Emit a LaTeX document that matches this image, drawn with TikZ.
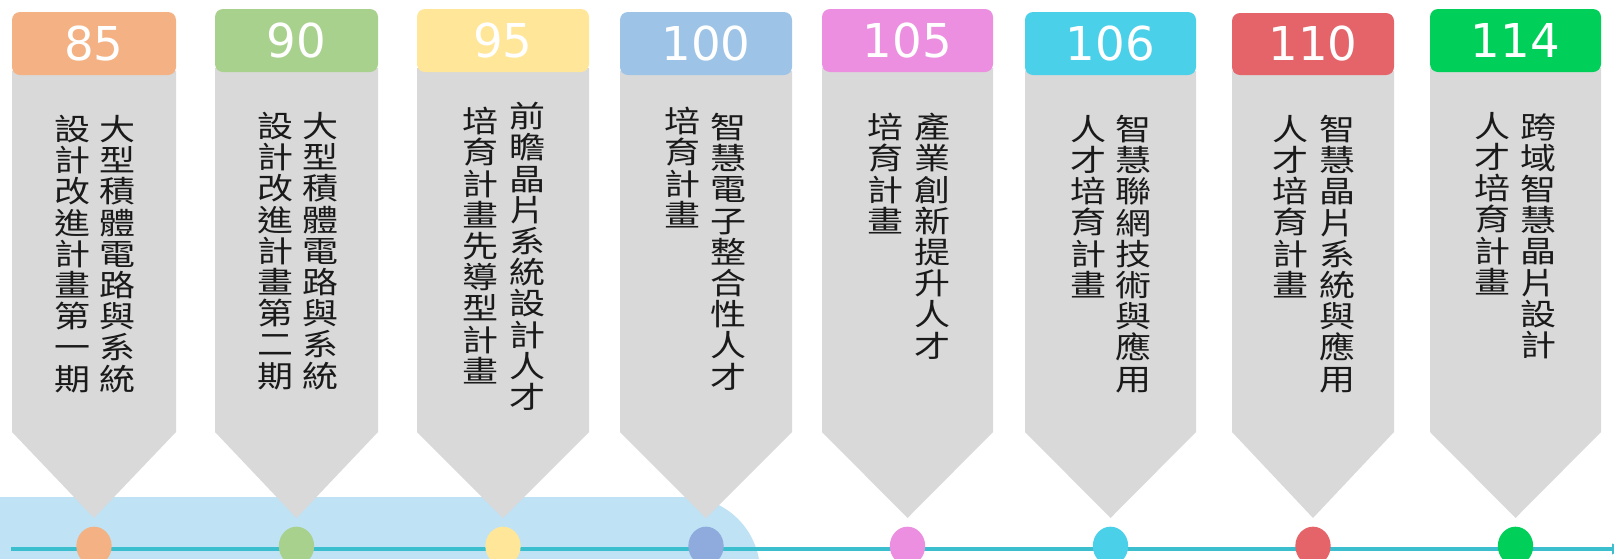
\documentclass[tikz,border=0pt]{standalone}
\usepackage{fontspec}
\newfontfamily\cjk[FakeStretch=1.2]{Noto Sans CJK TC}
\newfontfamily\numfont{DejaVu Sans}
\usetikzlibrary{shapes.geometric,arrows.meta}
\definecolor{cA}{HTML}{F4B183}
\definecolor{cB}{HTML}{A9D18E}
\definecolor{cC}{HTML}{FFE699}
\definecolor{cD}{HTML}{9DC3E6}
\definecolor{cDd}{HTML}{8FAADC}
\definecolor{cE}{HTML}{EC8FE0}
\definecolor{cF}{HTML}{4BD0EA}
\definecolor{cG}{HTML}{E46469}
\definecolor{cH}{HTML}{00D05A}
\definecolor{bodygray}{HTML}{D9D9D9}
\definecolor{bandblue}{HTML}{BFE2F4}
\definecolor{tlcolor}{HTML}{3BBFCF}
\definecolor{txt}{HTML}{1A1A1A}
\newcommand\tlcol[8]{%
  \pgfmathsetmacro\cx{(#1+#2)/2}
  \fill[bodygray] (#1,{#4-4}) -- (#2,{#4-4}) -- (#2,432) -- (\cx,518) -- (#1,432) -- cycle;
  \node[hdr, fill=#5, minimum width={(#2-#1)*0.75pt}, minimum height={(#4-#3)*0.75pt}] (h#8) at (\cx,{(#3+#4)/2}) {#7};
  \node[dot, fill=#6] (d#8) at (\cx,546) {};
}
\begin{document}
\begin{tikzpicture}[x=0.75pt,y=-0.75pt,
  hdr/.style={rounded corners=6pt, inner sep=0pt, text=white, font=\numfont\fontsize{35}{35}\selectfont},
  vtext/.style={anchor=north, inner sep=0pt, align=center, text=txt, font=\cjk\fontsize{22.5}{23.4}\selectfont},
  dot/.style={ellipse, minimum width=26.5pt, minimum height=29pt, inner sep=0pt},
  tline/.style={draw=tlcolor, line width=3pt, -{Latex[length=9pt,width=9pt]}}]
\useasboundingbox (0,0) rectangle (1614,558);
\fill[bandblue] (0,497) -- (685,497) arc[start angle=-90,end angle=0,radius=75] -- (760,565) -- (0,565) -- cycle;
\coordinate (tlS) at (11,549);
\coordinate (tlE) at (1624,549);
\draw[tline] (tlS) -- (tlE);
\tlcol{12}{176}{12}{75}{cA}{cA}{85}{1}
\tlcol{215}{378}{9}{72}{cB}{cB}{90}{2}
\tlcol{417}{589}{9}{72}{cC}{cC}{95}{3}
\tlcol{620}{792}{12}{75}{cD}{cDd}{100}{4}
\tlcol{822}{993}{9}{72}{cE}{cE}{105}{5}
\tlcol{1025}{1196}{12}{75}{cF}{cF}{106}{6}
\tlcol{1232}{1394}{13}{75}{cG}{cG}{110}{7}
\tlcol{1430}{1601}{9}{72}{cH}{cH}{114}{8}
% texts
\node[vtext] (t1a) at (117,115) {大\\型\\積\\體\\電\\路\\與\\系\\統};
\node[vtext] (t1b) at (72,115) {設\\計\\改\\進\\計\\畫\\第\\一\\期};
\node[vtext] (t2a) at (320,112) {大\\型\\積\\體\\電\\路\\與\\系\\統};
\node[vtext] (t2b) at (275,112) {設\\計\\改\\進\\計\\畫\\第\\二\\期};
\node[vtext] (t3a) at (527,102) {前\\瞻\\晶\\片\\系\\統\\設\\計\\人\\才};
\node[vtext] (t3b) at (480,107) {培\\育\\計\\畫\\先\\導\\型\\計\\畫};
\node[vtext] (t4a) at (728,113) {智\\慧\\電\\子\\整\\合\\性\\人\\才};
\node[vtext] (t4b) at (682,107) {培\\育\\計\\畫};
\node[vtext] (t5a) at (932,113) {產\\業\\創\\新\\提\\升\\人\\才};
\node[vtext] (t5b) at (885,113) {培\\育\\計\\畫};
\node[vtext] (t6a) at (1133,115) {智\\慧\\聯\\網\\技\\術\\與\\應\\用};
\node[vtext] (t6b) at (1088,115) {人\\才\\培\\育\\計\\畫};
\node[vtext] (t7a) at (1337,115) {智\\慧\\晶\\片\\系\\統\\與\\應\\用};
\node[vtext] (t7b) at (1290,115) {人\\才\\培\\育\\計\\畫};
\node[vtext] (t8a) at (1538,113) {跨\\域\\智\\慧\\晶\\片\\設\\計};
\node[vtext] (t8b) at (1492,112) {人\\才\\培\\育\\計\\畫};
\end{tikzpicture}
\end{document}
